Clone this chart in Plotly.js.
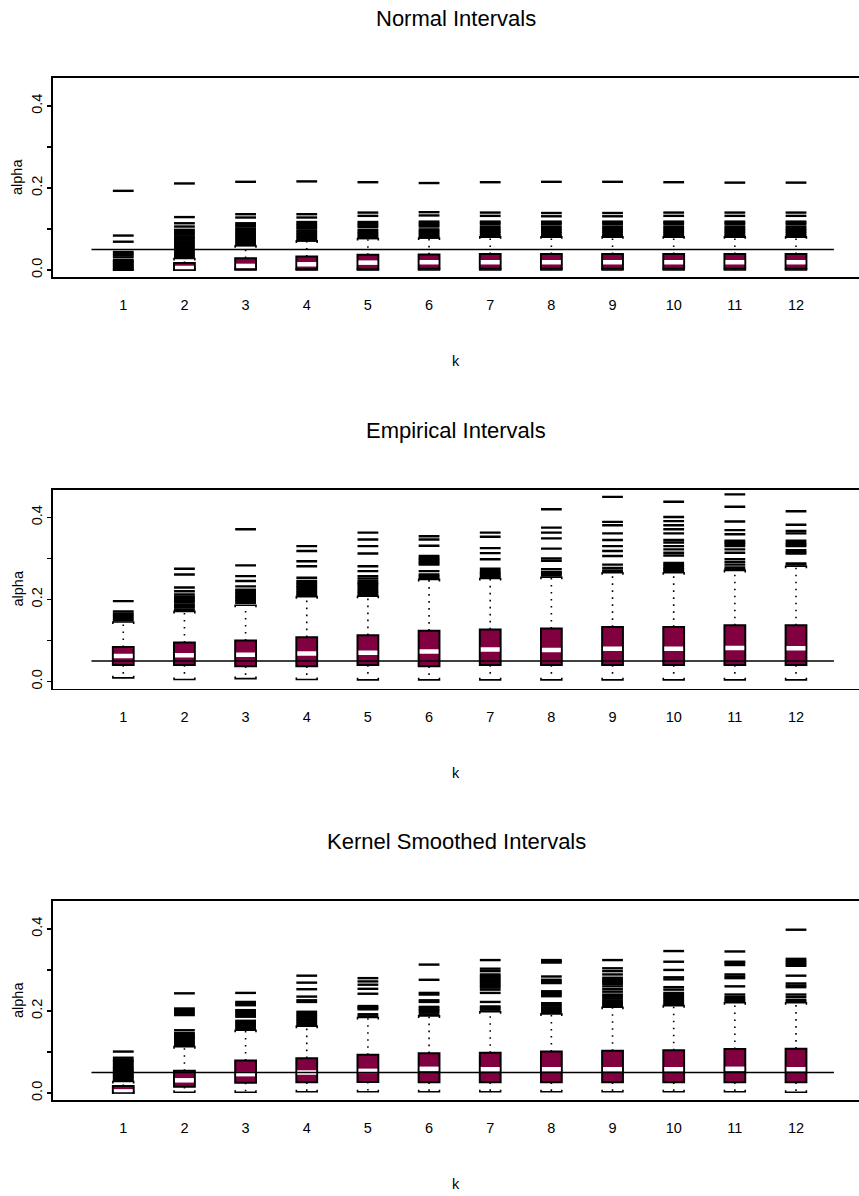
<!DOCTYPE html>
<html><head><meta charset="utf-8">
<script src="https://cdn.plot.ly/plotly-3.0.1.min.js"></script>
<style>html,body{margin:0;padding:0;background:#fff}</style>
</head><body>
<div id="chart" style="width:859px;height:1196px"></div>
<script>
// ---------------- data ----------------
const kValues = [1,2,3,4,5,6,7,8,9,10,11,12];
const kLabels = ['1','2','3','4','5','6','7','8','9','10','11','12'];
const panelTitles = ['Normal Intervals','Empirical Intervals','Kernel Smoothed Intervals'];
const yTickVals = [0, 0.1, 0.2, 0.3, 0.4];
const yTickText = ['0.0', '', '0.2', '', '0.4'];
const refAlpha = 0.05;

// Normal intervals
const normalQ1  = [0.000,0.000,0.002,0.002,0.002,0.003,0.003,0.003,0.003,0.003,0.003,0.003];
const normalMed = [0.000,0.005,0.010,0.014,0.018,0.019,0.019,0.019,0.019,0.019,0.019,0.019];
const normalQ3  = [0.000,0.017,0.029,0.033,0.037,0.038,0.039,0.039,0.039,0.039,0.039,0.039];
const normalLo  = [0.000,0.000,0.000,0.000,0.000,0.000,0.000,0.000,0.000,0.000,0.000,0.000];
const normalHi  = [0.000,0.028,0.059,0.071,0.077,0.078,0.081,0.081,0.081,0.081,0.081,0.081];
const normalOut = [
  [0.001,0.004,0.007,0.010,0.013,0.016,0.019,0.022,0.024,0.031,0.036,0.040,0.044,0.069,0.084,0.193],
  [0.030,0.034,0.038,0.042,0.046,0.050,0.054,0.058,0.062,0.066,0.070,0.074,0.078,0.081,0.086,0.090,0.094,0.098,0.106,0.114,0.129,0.211],
  [0.061,0.065,0.069,0.073,0.077,0.081,0.085,0.089,0.093,0.097,0.101,0.106,0.110,0.114,0.128,0.136,0.215],
  [0.072,0.076,0.080,0.084,0.088,0.092,0.096,0.101,0.105,0.109,0.113,0.117,0.128,0.136,0.216],
  [0.078,0.082,0.086,0.090,0.094,0.098,0.105,0.109,0.113,0.117,0.132,0.140,0.214],
  [0.079,0.083,0.087,0.091,0.095,0.099,0.106,0.110,0.114,0.118,0.133,0.141,0.212],
  [0.081,0.085,0.089,0.093,0.097,0.101,0.105,0.111,0.115,0.118,0.132,0.140,0.214],
  [0.081,0.085,0.089,0.093,0.097,0.101,0.105,0.111,0.115,0.118,0.131,0.139,0.215],
  [0.081,0.085,0.089,0.093,0.097,0.101,0.105,0.111,0.115,0.118,0.131,0.139,0.215],
  [0.081,0.085,0.089,0.093,0.097,0.101,0.105,0.111,0.115,0.118,0.132,0.140,0.214],
  [0.081,0.085,0.089,0.093,0.097,0.101,0.105,0.111,0.115,0.118,0.132,0.140,0.213],
  [0.081,0.085,0.089,0.093,0.097,0.101,0.105,0.111,0.115,0.118,0.132,0.140,0.213]
];

// Empirical intervals
const empQ1  = [0.040,0.040,0.037,0.037,0.040,0.037,0.040,0.040,0.040,0.040,0.040,0.040];
const empMed = [0.062,0.064,0.065,0.068,0.070,0.073,0.078,0.077,0.080,0.080,0.082,0.081];
const empQ3  = [0.084,0.095,0.100,0.108,0.113,0.124,0.127,0.129,0.133,0.133,0.137,0.137];
const empLo  = [0.009,0.005,0.007,0.005,0.004,0.004,0.004,0.004,0.004,0.004,0.004,0.004];
const empHi  = [0.145,0.171,0.186,0.207,0.208,0.249,0.251,0.254,0.265,0.265,0.271,0.281];
const empOut = [
  [0.149,0.153,0.158,0.162,0.166,0.171,0.196],
  [0.175,0.180,0.184,0.188,0.193,0.197,0.200,0.204,0.207,0.212,0.220,0.229,0.261,0.275],
  [0.192,0.196,0.200,0.204,0.208,0.212,0.216,0.220,0.224,0.232,0.245,0.257,0.283,0.371],
  [0.211,0.214,0.218,0.222,0.226,0.230,0.233,0.237,0.241,0.245,0.253,0.281,0.293,0.318,0.330],
  [0.211,0.215,0.219,0.223,0.228,0.233,0.237,0.240,0.245,0.251,0.257,0.269,0.281,0.312,0.330,0.346,0.363],
  [0.253,0.257,0.261,0.269,0.285,0.288,0.291,0.295,0.298,0.302,0.306,0.331,0.346,0.354],
  [0.255,0.258,0.262,0.265,0.269,0.275,0.298,0.313,0.325,0.353,0.363],
  [0.258,0.262,0.265,0.267,0.274,0.294,0.300,0.324,0.349,0.363,0.375,0.420],
  [0.268,0.271,0.277,0.285,0.306,0.318,0.330,0.345,0.361,0.381,0.389,0.450],
  [0.268,0.271,0.274,0.277,0.281,0.285,0.289,0.307,0.314,0.322,0.330,0.339,0.345,0.361,0.371,0.381,0.391,0.401,0.438],
  [0.274,0.278,0.285,0.291,0.298,0.314,0.322,0.330,0.335,0.339,0.343,0.359,0.369,0.390,0.426,0.456],
  [0.285,0.288,0.312,0.315,0.320,0.330,0.334,0.337,0.343,0.361,0.367,0.382,0.415]
];

// Kernel smoothed intervals
const kerQ1  = [0.000,0.015,0.025,0.026,0.027,0.026,0.026,0.026,0.026,0.026,0.026,0.026];
const kerMed = [0.004,0.031,0.046,0.050,0.054,0.059,0.058,0.058,0.058,0.058,0.059,0.058];
const kerQ3  = [0.017,0.054,0.079,0.085,0.093,0.097,0.098,0.101,0.103,0.104,0.107,0.108];
const kerLo  = [0.000,0.002,0.002,0.003,0.003,0.003,0.003,0.003,0.003,0.003,0.003,0.002];
const kerHi  = [0.028,0.113,0.153,0.163,0.184,0.188,0.198,0.193,0.209,0.213,0.220,0.220];
const kerOut = [
  [0.030,0.033,0.036,0.039,0.042,0.045,0.048,0.051,0.054,0.057,0.060,0.063,0.067,0.071,0.075,0.078,0.081,0.086,0.101],
  [0.115,0.118,0.121,0.124,0.128,0.131,0.134,0.137,0.140,0.143,0.146,0.153,0.190,0.194,0.198,0.202,0.206,0.243],
  [0.156,0.160,0.164,0.168,0.172,0.176,0.186,0.190,0.194,0.198,0.202,0.214,0.218,0.222,0.244],
  [0.166,0.170,0.174,0.178,0.182,0.186,0.190,0.194,0.198,0.222,0.226,0.235,0.253,0.269,0.286],
  [0.187,0.192,0.204,0.207,0.209,0.212,0.242,0.254,0.264,0.272,0.280],
  [0.192,0.198,0.202,0.206,0.210,0.222,0.226,0.240,0.244,0.276,0.313],
  [0.203,0.207,0.211,0.222,0.244,0.252,0.257,0.261,0.265,0.269,0.273,0.277,0.281,0.285,0.289,0.297,0.303,0.324],
  [0.197,0.201,0.205,0.209,0.214,0.219,0.236,0.240,0.244,0.248,0.268,0.272,0.276,0.284,0.318,0.321,0.324],
  [0.212,0.215,0.219,0.222,0.226,0.231,0.236,0.240,0.247,0.253,0.260,0.266,0.270,0.273,0.277,0.281,0.289,0.297,0.304,0.324],
  [0.216,0.220,0.224,0.228,0.232,0.236,0.240,0.244,0.252,0.258,0.277,0.282,0.300,0.320,0.346],
  [0.223,0.226,0.230,0.234,0.240,0.260,0.280,0.284,0.289,0.312,0.317,0.320,0.345],
  [0.223,0.227,0.234,0.240,0.258,0.262,0.267,0.286,0.310,0.314,0.318,0.322,0.327,0.398]
];

// ---------------- styling ----------------
const FONT = 'Liberation Sans, Arial, Helvetica, sans-serif';
const BOX_COLOR = '#800040';
const W = 859, H = 1196;
const BOX_W = 0.34;           // box width in k units
const MED_HALF = 0.155;
const DASH_HALF = 0.17;
const CAP_TICK = 0.005;
const panelTopPx = [78, 489.5, 901];
const panelBotPx = [277, 688.5, 1100];
const px2paper = p => 1 - p / H;

const panels = [
  {q1: normalQ1, med: normalMed, q3: normalQ3, lo: normalLo, hi: normalHi, out: normalOut},
  {q1: empQ1, med: empMed, q3: empQ3, lo: empLo, hi: empHi, out: empOut},
  {q1: kerQ1, med: kerMed, q3: kerQ3, lo: kerLo, hi: kerHi, out: kerOut}
];

const traces = [];
const layout = {
  width: W, height: H,
  margin: {l: 53, r: 0, t: 0, b: 0},
  paper_bgcolor: '#fff', plot_bgcolor: '#fff',
  showlegend: false,
  barmode: 'overlay',
  font: {family: FONT, color: '#000', size: 14.5},
  annotations: [], shapes: []
};

panels.forEach((p, i) => {
  const sfx = i === 0 ? '' : String(i + 1);
  const xa = 'x' + sfx, ya = 'y' + sfx;
  const heights = p.q3.map((v, j) => v - p.q1[j]);
  // whiskers (dotted)
  const wx = [], wy = [];
  kValues.forEach((k, j) => {
    if (p.hi[j] > p.q3[j]) { wx.push(k, k, null); wy.push(p.q3[j], p.hi[j], null); }
    if (p.lo[j] < p.q1[j]) { wx.push(k, k, null); wy.push(p.q1[j], p.lo[j], null); }
  });
  traces.push({type: 'scatter', mode: 'lines', x: wx, y: wy, xaxis: xa, yaxis: ya,
    line: {color: '#000', width: 1.6, dash: '1.6px,5.4px'}, hoverinfo: 'skip'});
  // box fill
  traces.push({
    type: 'bar', x: kValues, base: p.q1, y: heights,
    width: BOX_W, xaxis: xa, yaxis: ya,
    marker: {color: BOX_COLOR, line: {width: 0}}, hoverinfo: 'skip'
  });
  // medians
  const mx = [], my = [];
  kValues.forEach((k, j) => {
    if (p.q3[j] > p.q1[j]) { mx.push(k - MED_HALF, k + MED_HALF, null); my.push(p.med[j], p.med[j], null); }
  });
  traces.push({type: 'scatter', mode: 'lines', x: mx, y: my, xaxis: xa, yaxis: ya,
    line: {color: '#fff', width: 4.5}, hoverinfo: 'skip'});
  // box outline on top
  traces.push({
    type: 'bar', x: kValues, base: p.q1, y: heights,
    width: BOX_W, xaxis: xa, yaxis: ya,
    marker: {color: 'rgba(0,0,0,0)', line: {color: '#000', width: 2}}, hoverinfo: 'skip'
  });
  // whisker caps (bracket style)
  const cx = [], cy = [];
  kValues.forEach((k, j) => {
    if (p.hi[j] > p.q3[j]) {
      cx.push(k - DASH_HALF, k - DASH_HALF, k + DASH_HALF, k + DASH_HALF, null);
      cy.push(p.hi[j] - CAP_TICK, p.hi[j], p.hi[j], p.hi[j] - CAP_TICK, null);
    }
    if (p.lo[j] < p.q1[j] || p.q3[j] > p.q1[j]) {
      cx.push(k - DASH_HALF, k - DASH_HALF, k + DASH_HALF, k + DASH_HALF, null);
      cy.push(p.lo[j] + CAP_TICK, p.lo[j], p.lo[j], p.lo[j] + CAP_TICK, null);
    }
  });
  traces.push({type: 'scatter', mode: 'lines', x: cx, y: cy, xaxis: xa, yaxis: ya,
    line: {color: '#000', width: 1.6}, hoverinfo: 'skip'});
  // outliers as horizontal dashes
  const ox = [], oy = [];
  kValues.forEach((k, j) => {
    p.out[j].forEach(v => { ox.push(k - DASH_HALF, k + DASH_HALF, null); oy.push(v, v, null); });
  });
  traces.push({type: 'scatter', mode: 'lines', x: ox, y: oy, xaxis: xa, yaxis: ya,
    line: {color: '#000', width: 2.4}, hoverinfo: 'skip'});

  const dom = [px2paper(panelBotPx[i]), px2paper(panelTopPx[i])];
  layout['xaxis' + sfx] = {
    domain: [0, 1], anchor: ya, range: [-0.149, 13.03],
    tickmode: 'array', tickvals: kValues, ticktext: kLabels,
    ticks: '', showgrid: false, zeroline: false,
    showline: true, mirror: true, linecolor: '#000', linewidth: 1.6,
    tickfont: {family: FONT, size: 14.5, color: '#000'},
    ticklabelstandoff: 14, fixedrange: true
  };
  layout['yaxis' + sfx] = {
    domain: dom, anchor: xa, range: [-0.017, 0.468],
    tickmode: 'array', tickvals: yTickVals, ticktext: yTickText,
    ticks: 'outside', ticklen: 4, tickwidth: 1.3, tickcolor: '#000', tickangle: -90,
    showgrid: false, zeroline: false,
    showline: true, mirror: false, linecolor: '#000', linewidth: 1.6,
    tickfont: {family: FONT, size: 14.5, color: '#000'}, fixedrange: true
  };
  // reference line at alpha = 0.05
  layout.shapes.push({type: 'line', xref: xa, yref: ya, x0: 0.48, x1: 12.62, y0: refAlpha, y1: refAlpha,
    line: {color: '#000', width: 1.6}});
  // panel title
  layout.annotations.push({text: panelTitles[i], xref: 'paper', yref: 'paper', x: 0.5,
    y: px2paper(panelTopPx[i] - 59.5), xanchor: 'center', yanchor: 'middle', showarrow: false,
    font: {family: FONT, size: 22, color: '#000'}});
  // x axis title
  layout.annotations.push({text: 'k', xref: 'paper', yref: 'paper', x: 0.5,
    y: px2paper(panelBotPx[i] + 84), xanchor: 'center', yanchor: 'middle', showarrow: false,
    font: {family: FONT, size: 14.5, color: '#000'}});
  // y axis title
  layout.annotations.push({text: 'alpha', xref: 'paper', yref: 'paper', x: -(53 - 17.5) / 806,
    y: (dom[0] + dom[1]) / 2, xanchor: 'center', yanchor: 'middle', textangle: -90, showarrow: false,
    font: {family: FONT, size: 14.5, color: '#000'}});
});

Plotly.newPlot('chart', traces, layout, {staticPlot: true, displayModeBar: false});
</script>
</body></html>
